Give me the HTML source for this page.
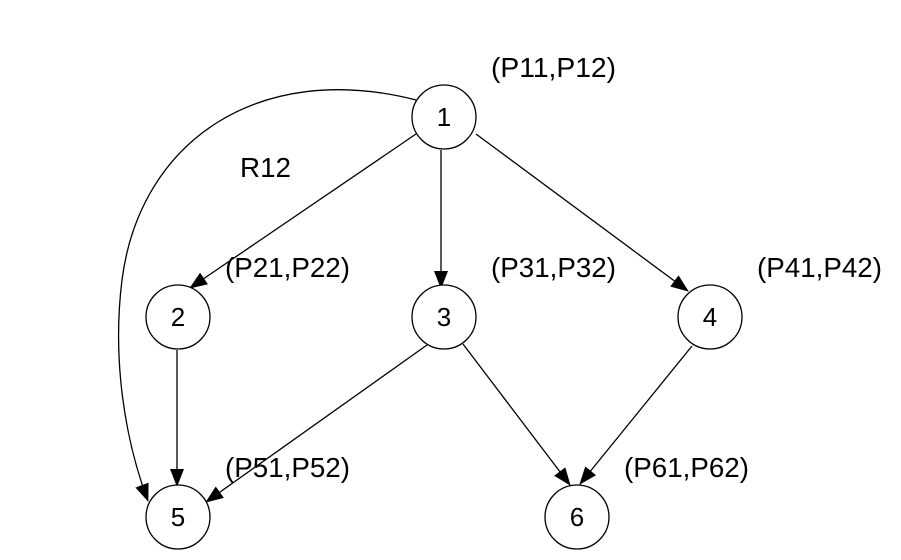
<!DOCTYPE html>
<html><head><style>body{margin:0;background:#fff}</style></head><body>
<svg width="901" height="555" xmlns="http://www.w3.org/2000/svg" font-family="Liberation Sans, sans-serif" font-size="22">
<defs><marker id="b" markerWidth="18" markerHeight="14" refX="17" refY="7" orient="auto" markerUnits="userSpaceOnUse"><path d="M0,0 L18,7 L0,14z" fill="#000"/></marker></defs>
<g stroke="#000" stroke-width="1.3" fill="none" marker-end="url(#b)">
<path d="M416,134 L190,288"/>
<path d="M441,150 L441,288"/>
<path d="M476,134 L688,291"/>
<path d="M177,350 L177,486"/>
<path d="M427,345 L206,502"/>
<path d="M463,344 L570,485"/>
<path d="M692,346 L580,484"/>
<path d="M416,100 C260,60 140,140 122,280 C112,360 125,440 148,501"/>
</g>
<g stroke="#000" stroke-width="1.3" fill="#fff">
<circle cx="444" cy="117" r="32"/><circle cx="178" cy="317" r="32"/><circle cx="444" cy="317" r="32"/>
<circle cx="710" cy="317" r="32"/><circle cx="178" cy="517" r="32"/><circle cx="577" cy="517" r="32"/>
</g>
<g text-anchor="middle" font-size="26">
<text x="444" y="126">1</text><text x="178" y="326">2</text><text x="444" y="326">3</text>
<text x="710" y="326">4</text><text x="178" y="526">5</text><text x="577" y="526">6</text>
</g>
<g font-size="28">
<text x="491" y="77" textLength="125" lengthAdjust="spacingAndGlyphs">(P11,P12)</text>
<text x="240" y="177" textLength="51" lengthAdjust="spacingAndGlyphs">R12</text>
<text x="225" y="277" textLength="125" lengthAdjust="spacingAndGlyphs">(P21,P22)</text>
<text x="491" y="277" textLength="125" lengthAdjust="spacingAndGlyphs">(P31,P32)</text>
<text x="757" y="277" textLength="125" lengthAdjust="spacingAndGlyphs">(P41,P42)</text>
<text x="225" y="477" textLength="125" lengthAdjust="spacingAndGlyphs">(P51,P52)</text>
<text x="624" y="477" textLength="125" lengthAdjust="spacingAndGlyphs">(P61,P62)</text>
</g>
</svg>
</body></html>
